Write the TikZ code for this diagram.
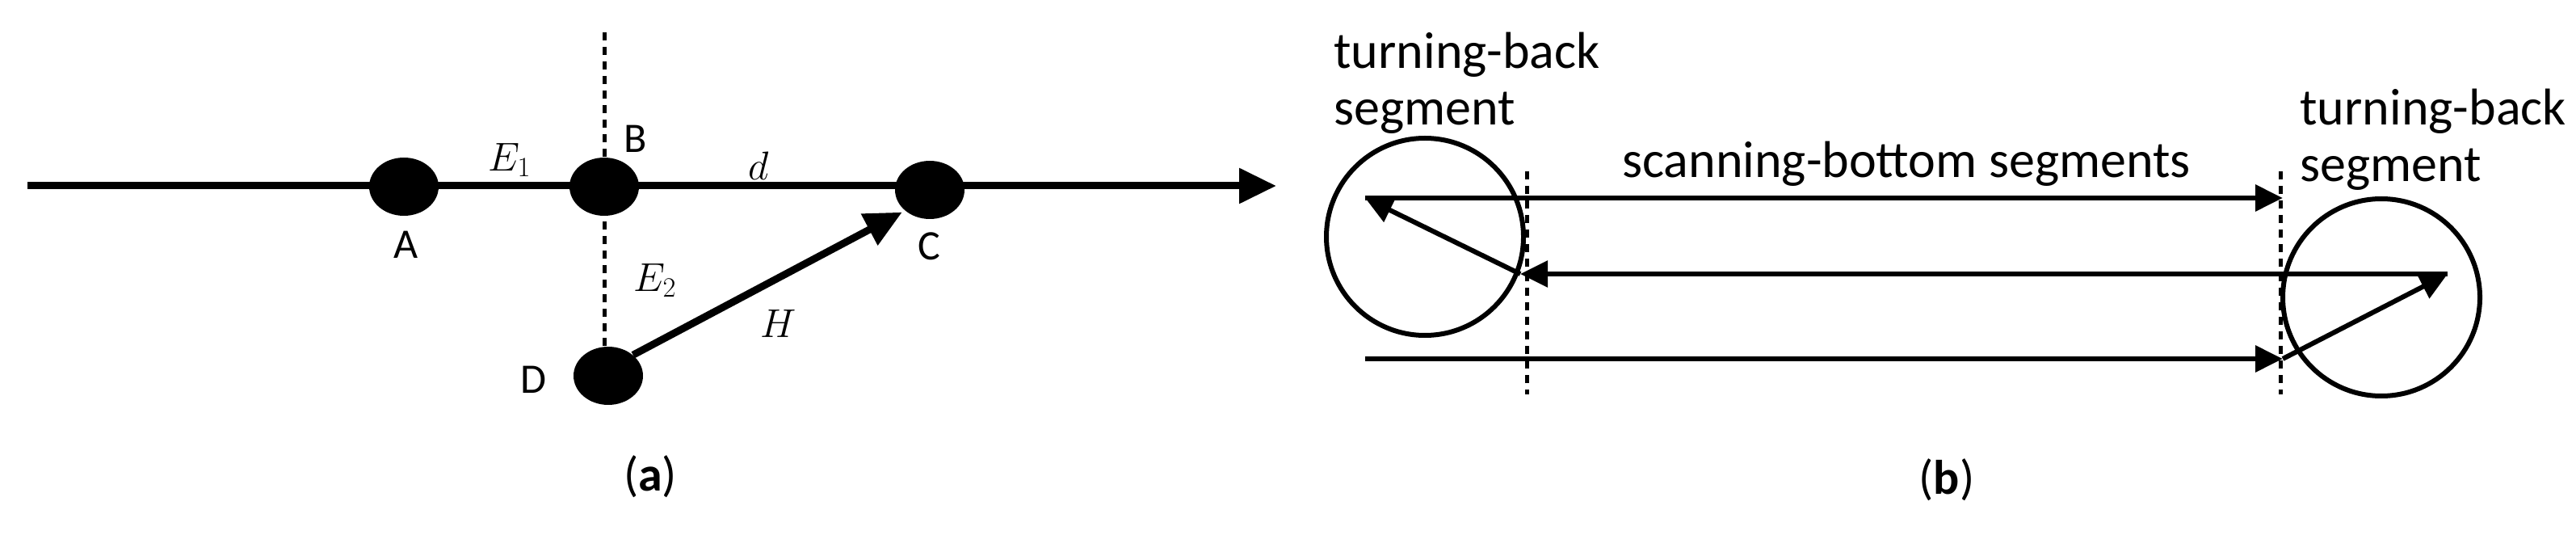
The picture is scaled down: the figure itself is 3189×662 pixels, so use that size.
\documentclass[tikz,border=0pt]{standalone}
\usepackage{fontspec}
\setmainfont{Carlito}
\usetikzlibrary{shapes.geometric,arrows.meta}
\begin{document}
\begin{tikzpicture}[x=0.5pt,y=-0.5pt,
  dot/.style={ellipse,fill=black,minimum width=43pt,minimum height=36pt,inner sep=0pt},
  lbl/.style={font=\fontsize{26}{30}\selectfont,inner sep=0pt},
  mlbl/.style={font=\fontsize{26}{30}\selectfont,inner sep=0pt},
  txt/.style={font=\fontsize{32}{35}\selectfont,inner sep=0pt,align=left},
  captext/.style={font=\fontsize{30}{34}\selectfont\rmfamily,inner sep=0pt},
  thick1/.style={line width=4.5pt},
  thin1/.style={line width=3pt},
  dotl/.style={line width=2.5pt,dash pattern=on 5pt off 4pt},
  bigtip/.style={-{Triangle[length=23pt,width=21pt]}},
  smalltip/.style={-{Triangle[length=17pt,width=16pt]}}]
\useasboundingbox (0,0) rectangle (3189,662);
% ---- (a)
\coordinate (s) at (34,230);
\coordinate (e) at (1580,230);
\coordinate (bt) at (748,40);
\draw[dotl] (bt) -- (748,430) coordinate (bb);
\draw[thick1,bigtip] (s) -- (e);
\node[dot] (A) at (500,231) {};
\node[dot] (B) at (748,231) {};
\node[dot] (C) at (1151,235) {};
\node[dot] (D) at (753,465) {};
\draw[thick1,bigtip,shorten >=2pt] (D.north east) -- (C.south west);
\node[mlbl] (E1) at (631,198) {$E_1$};
\node[lbl] (lB) at (787,172) {B};
\node[mlbl] (ld) at (939,205) {$d$};
\node[lbl] (lA) at (503,303) {A};
\node[lbl] (lC) at (1150,305) {C};
\node[mlbl] (E2) at (811,347) {$E_2$};
\node[mlbl] (lH) at (964,400) {$H$};
\node[lbl] (lD) at (660,470) {D};
\node[captext] (ca) at (805,590) {(\textbf{a})};
% ---- (b)
\node[circle,draw,thin1,minimum size=122pt,inner sep=0pt] (L) at (1764,293) {};
\node[circle,draw,thin1,minimum size=122pt,inner sep=0pt] (R) at (2948,368) {};
\draw[dotl] (1890,212) coordinate (d1t) -- (1890,488) coordinate (d1b);
\draw[dotl] (2823,212) coordinate (d2t) -- (2823,488) coordinate (d2b);
\coordinate (p1) at (1690,245);
\coordinate (p2) at (2826,245);
\coordinate (p3) at (1882,339);
\coordinate (p4) at (3030,339);
\coordinate (p5) at (1690,444);
\coordinate (p6) at (2826,444);
\draw[thin1,smalltip] (p1) -- (p2);
\draw[thin1,smalltip] (p3) -- (p1);
\draw[thin1,smalltip] (p4) -- (p3);
\draw[thin1,smalltip] (p6) -- (p4);
\draw[thin1,smalltip] (p5) -- (p6);
\node[txt,anchor=north west] (t1) at (1651,40) {turning-back\\segment};
\node[txt,anchor=north west] (t2) at (2847,110) {turning-back\\segment};
\node[txt] (t3) at (2360,203) {scanning-bottom segments};
\node[captext] (cb) at (2410,594) {(\textbf{b})};
\end{tikzpicture}
\end{document}
